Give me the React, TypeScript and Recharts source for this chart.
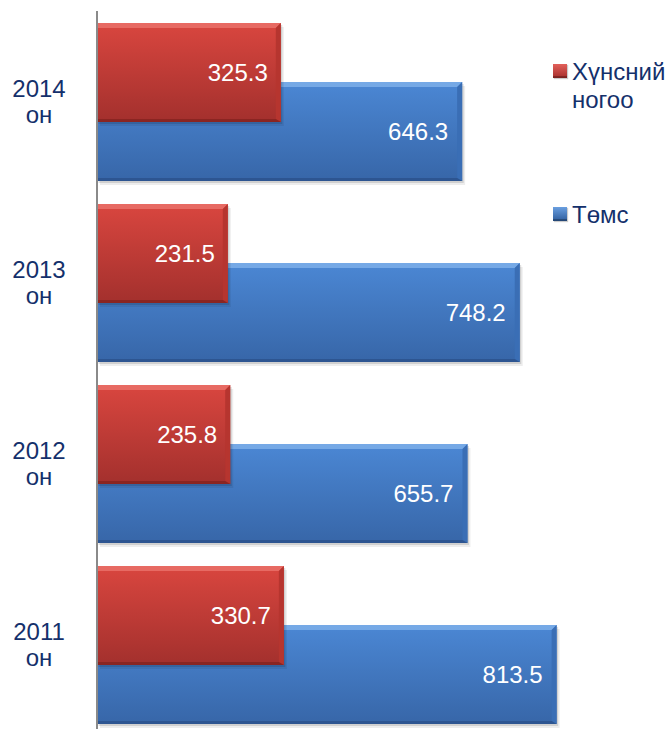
import React from 'react';
import { BarChart, Bar, XAxis, YAxis, Legend, LabelList } from 'recharts';

const years = ['2014 он', '2013 он', '2012 он', '2011 он'];
const vegetables = [325.3, 231.5, 235.8, 330.7];
const potatoes = [646.3, 748.2, 655.7, 813.5];
const seriesNames = ['Хүнсний ногоо', 'Төмс'];

const data = years.map((year, i) => ({ year, vegetables: vegetables[i], potatoes: potatoes[i] }));

const TEXT = '#14306b';
const FONT = '"Liberation Sans", Arial, sans-serif';

const palette: Record<string, any> = {
  red: { top: '#d9463f', bottom: '#a3302d', light: '#ec7770', side: '#b6352f', dark: '#83231f' },
  blue: { top: '#4b87d4', bottom: '#3766a8', light: '#84b4ec', side: '#3a6eb5', dark: '#2a518b' },
};

// bevelled bar, like the office 3D preset
const makeBar = (tone: string) => (props: any) => {
  const { x, y, width, height } = props;
  if (!width || width <= 0) return <g />;
  const c = palette[tone];
  const b = 5;
  const id = `grad-${tone}`;
  const r = x + width;
  const btm = y + height;
  return (
    <g>
      <defs>
        <linearGradient id={id} x1="0" y1="0" x2="0" y2="1">
          <stop offset="0%" stopColor={c.top} />
          <stop offset="100%" stopColor={c.bottom} />
        </linearGradient>
      </defs>
      <rect x={x + 3} y={y + 4} width={width} height={height} fill="rgba(0,0,0,0.07)" />
      <rect x={x + 1.5} y={y + 2} width={width} height={height} fill="rgba(0,0,0,0.12)" />
      <rect x={x} y={y} width={width} height={height} fill={`url(#${id})`} />
      <polygon points={`${x},${y} ${r},${y} ${r - b},${y + b} ${x},${y + b}`} fill={c.light} opacity={0.75} />
      <polygon points={`${r},${y} ${r},${btm} ${r - b},${btm - 3} ${r - b},${y + b}`} fill={c.side} />
      <polygon points={`${x},${btm} ${r},${btm} ${r - b},${btm - 3} ${x},${btm - 3}`} fill={c.dark} opacity={0.8} />
    </g>
  );
};

const RedBar = makeBar('red');
const BlueBar = makeBar('blue');
const Ghost = () => <g />;

const YearTick = (props: any) => {
  const { y, payload } = props;
  const [year, suffix] = String(payload.value).split(' ');
  return (
    <text x={39} y={y} textAnchor="middle" fill={TEXT} fontSize={24} fontFamily={FONT}>
      <tspan x={39} dy={-4.5}>{year}</tspan>
      <tspan x={39} dy={26}>{suffix}</tspan>
    </text>
  );
};

const markerBg: Record<string, string> = {
  'Хүнсний ногоо': 'linear-gradient(#e2605a, #a62e2b)',
  'Төмс': 'linear-gradient(#6a9fe0, #2f5d9c)',
};

const LegendBox = () => (
  <div style={{ width: 117, fontFamily: FONT, fontSize: 24, lineHeight: '28px', color: TEXT }}>
    {seriesNames.map((name, i) => (
      <div key={name} style={{ position: 'relative', paddingLeft: 19, marginBottom: i === 0 ? 87 : 0 }}>
        <span
          style={{
            position: 'absolute',
            left: 0,
            top: 6,
            width: 14,
            height: 14,
            background: markerBg[name],
            boxShadow: 'inset 0 -2px 0 rgba(0,0,0,0.25), 1px 1px 1px rgba(0,0,0,0.2)',
          }}
        />
        {name}
      </div>
    ))}
  </div>
);

export default function App() {
  return (
    <div style={{ position: 'absolute', left: 0, top: 0, width: 670, height: 729, overflow: 'hidden', background: '#fff' }}>
      <BarChart
        width={670}
        height={735}
        layout="vertical"
        data={data}
        margin={{ top: 11, right: 8, left: 0, bottom: 0 }}
        barGap={-40}
      >
        <XAxis xAxisId="main" type="number" domain={[0, 1000]} hide />
        <XAxis xAxisId="over" type="number" domain={[0, 1000]} hide />
        <YAxis
          yAxisId="main"
          type="category"
          dataKey="year"
          width={97}
          axisLine={{ stroke: '#8a8a8a', strokeWidth: 2 }}
          tickLine={false}
          tick={YearTick}
        />
        <YAxis yAxisId="over" type="category" dataKey="year" hide />
        <Legend
          layout="vertical"
          align="center"
          verticalAlign="middle"
          content={LegendBox}
          wrapperStyle={{ left: 553, top: 58, width: 117 }}
        />
        {/* the red series is drawn in a second group so it sits over the blue one */}
        <Bar xAxisId="main" yAxisId="main" dataKey="vegetables" barSize={99} shape={Ghost} legendType="none" isAnimationActive={false} />
        <Bar xAxisId="main" yAxisId="main" dataKey="potatoes" name={seriesNames[1]} barSize={99} shape={BlueBar} fill="#4a84d0" isAnimationActive={false}>
          <LabelList dataKey="potatoes" position="insideRight" offset={14} fill="#fff" fontSize={24} fontFamily={FONT} />
        </Bar>
        <Bar xAxisId="over" yAxisId="over" dataKey="vegetables" name={seriesNames[0]} barSize={99} shape={RedBar} fill="#d4403d" isAnimationActive={false}>
          <LabelList dataKey="vegetables" position="insideRight" offset={13} fill="#fff" fontSize={24} fontFamily={FONT} />
        </Bar>
        <Bar xAxisId="over" yAxisId="over" dataKey="potatoes" barSize={99} shape={Ghost} legendType="none" isAnimationActive={false} />
      </BarChart>
    </div>
  );
}
